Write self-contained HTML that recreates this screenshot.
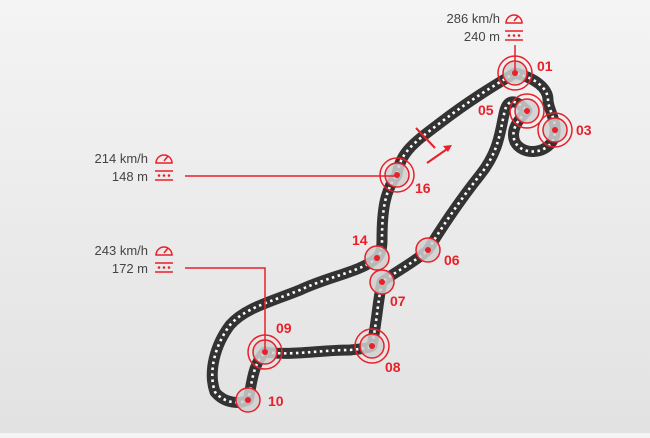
<!DOCTYPE html>
<html><head><style>
body{margin:0;width:650px;height:433px;overflow:hidden;background:linear-gradient(#f4f4f4,#e2e2e2);font-family:"Liberation Sans",sans-serif}
</style></head><body>
<svg width="650" height="433" viewBox="0 0 650 433">
<g fill="none" stroke-linecap="round" stroke-linejoin="round">
<path d="M515,73 C495,85 470,100 440,123 C415,142 400,152 397,175 C385,190 382,210 382,240 C382,250 380,255 377,258 C360,272 330,276 300,290 C270,302 245,308 230,325 C215,345 208,372 215,392 C225,404 240,404 248,400 C252,385 252,365 265,352 C290,356 320,350 350,350 C360,349 370,348 372,346 C377,320 378,300 382,282 C395,272 415,262 428,250 C440,230 460,200 480,175 C500,150 500,130 505,110 C508,100 515,98 527,111 C518,120 510,130 515,142 C522,155 545,155 553,140 C560,125 548,110 548,100 C548,88 535,78 515,73 Z" stroke="#333" stroke-width="11"/>
<path d="M515,73 C495,85 470,100 440,123 C415,142 400,152 397,175 C385,190 382,210 382,240 C382,250 380,255 377,258 C360,272 330,276 300,290 C270,302 245,308 230,325 C215,345 208,372 215,392 C225,404 240,404 248,400 C252,385 252,365 265,352 C290,356 320,350 350,350 C360,349 370,348 372,346 C377,320 378,300 382,282 C395,272 415,262 428,250 C440,230 460,200 480,175 C500,150 500,130 505,110 C508,100 515,98 527,111 C518,120 510,130 515,142 C522,155 545,155 553,140 C560,125 548,110 548,100 C548,88 535,78 515,73 Z" stroke="#fff" stroke-width="2.6" stroke-linecap="butt" stroke-dasharray="2.5 3.5"/>
</g>
<g fill="#d0d0d0" fill-opacity="0.85" stroke="#e8202a" stroke-width="1.5">
<circle cx="515" cy="73" r="12"/><circle cx="515" cy="73" r="17" fill="none"/>
<circle cx="527" cy="111" r="12"/><circle cx="527" cy="111" r="17" fill="none"/>
<circle cx="555" cy="130" r="12"/><circle cx="555" cy="130" r="17" fill="none"/>
<circle cx="397" cy="175" r="12"/><circle cx="397" cy="175" r="17" fill="none"/>
<circle cx="265" cy="352" r="12"/><circle cx="265" cy="352" r="17" fill="none"/>
<circle cx="372" cy="346" r="12"/><circle cx="372" cy="346" r="17" fill="none"/>
<circle cx="377" cy="258" r="12"/><circle cx="382" cy="282" r="12"/>
<circle cx="428" cy="250" r="12"/><circle cx="248" cy="400" r="12"/>
</g>
<g fill="#e8202a">
<circle cx="515" cy="73" r="3"/><circle cx="527" cy="111" r="3"/><circle cx="555" cy="130" r="3"/>
<circle cx="397" cy="175" r="3"/><circle cx="265" cy="352" r="3"/><circle cx="372" cy="346" r="3"/>
<circle cx="377" cy="258" r="3"/><circle cx="382" cy="282" r="3"/><circle cx="428" cy="250" r="3"/><circle cx="248" cy="400" r="3"/>
</g>
<g stroke="#e8202a" stroke-width="1.5" fill="none">
<path d="M515,45 V73"/><path d="M185,176 H397"/><path d="M185,268 H265 V352"/>
<path d="M416,128 L435,148" stroke-width="2"/><path d="M427,163 L450,147" stroke-width="2"/>
</g>
<path d="M452,145 L443,146 L448,152 Z" fill="#e8202a"/>
<g font-weight="bold" font-size="14" fill="#e8202a">
<text x="537" y="71">01</text><text x="478" y="115">05</text><text x="576" y="135">03</text>
<text x="415" y="193">16</text><text x="444" y="265">06</text><text x="352" y="245">14</text>
<text x="390" y="306">07</text><text x="385" y="372">08</text><text x="276" y="333">09</text><text x="268" y="406">10</text>
</g>
<g font-size="13" fill="#444" text-anchor="end">
<text x="500" y="23">286 km/h</text><text x="500" y="41">240 m</text>
<text x="148" y="163">214 km/h</text><text x="148" y="181">148 m</text>
<text x="148" y="255">243 km/h</text><text x="148" y="273">172 m</text>
</g>
<g stroke="#e8202a" stroke-width="1.5" fill="none">
<g id="ic"><path d="M506,23 A8,8 0 0 1 522,23 Z"/><path d="M514,21 L518,16"/><path d="M505,31 H523 M505,40 H523"/></g>
<use href="#ic" x="-350" y="140"/><use href="#ic" x="-350" y="232"/>
</g>
<g fill="#e8202a">
<g id="dd"><circle cx="509" cy="35.5" r="1.3"/><circle cx="514" cy="35.5" r="1.3"/><circle cx="519" cy="35.5" r="1.3"/></g>
<use href="#dd" x="-350" y="140"/><use href="#dd" x="-350" y="232"/>
</g>
</svg>
</body></html>
